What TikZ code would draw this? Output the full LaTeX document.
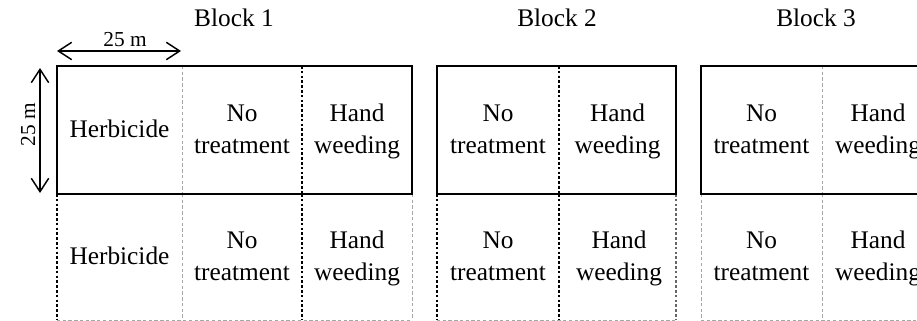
\documentclass[tikz,border=0pt]{standalone}
\usepackage{fontspec}
\setmainfont{Liberation Serif}
\usetikzlibrary{arrows.meta}
\begin{document}
\begin{tikzpicture}[x=0.75pt,y=-0.75pt,
  boxline/.style={line width=2.2pt},
  blackdot/.style={line width=0.8pt, dash pattern=on 2pt off 1.6pt},
  darkdot/.style={line width=0.8pt, draw=black!60, dash pattern=on 2pt off 1.6pt},
  graydash/.style={line width=0.75pt, draw=black!35, dash pattern=on 2.5pt off 1.8pt},
  cell/.style={align=center, font=\fontsize{19}{24}\selectfont, inner sep=0pt},
  title/.style={font=\fontsize{19}{24}\selectfont, inner sep=0pt, anchor=base},
  dim/.style={line width=1.1pt, {Straight Barb[length=10pt,width=13pt]}-{Straight Barb[length=10pt,width=13pt]}},
  dimlabel/.style={font=\fontsize{16}{19}\selectfont, inner sep=0pt, anchor=base}]
\useasboundingbox (0,0) rectangle (917,321);
\clip (0,0) rectangle (917,321);

% bottom row lines
\draw[graydash] (57,320) -- (412,320);
\draw[graydash] (437,320) -- (676,320);
\draw[graydash] (701,320) -- (935,320);
\draw[blackdot] (57,194) -- (57,320);
\draw[graydash] (182,194) -- (182,320);
\draw[blackdot] (302,194) -- (302,320);
\draw[graydash] (412,194) -- (412,320);
\draw[blackdot] (437,194) -- (437,320);
\draw[blackdot] (559,194) -- (559,320);
\draw[darkdot] (676,194) -- (676,320);
\draw[graydash] (701,194) -- (701,320);
\draw[graydash] (822,194) -- (822,320);
\draw[graydash] (935,194) -- (935,320);

% top row dividers
\draw[graydash] (182,66) -- (182,194);
\draw[blackdot] (302,66) -- (302,194);
\draw[blackdot] (559,66) -- (559,194);
\draw[graydash] (822,66) -- (822,194);

% thick block boxes
\draw[boxline] (57,66) rectangle (412,194);
\draw[boxline] (437,66) rectangle (676,194);
\draw[boxline] (701,66) rectangle (935,194);

% titles
\node[title] (b1) at (234,27) {Block 1};
\node[title] (b2) at (557,27) {Block 2};
\node[title] (b3) at (816,27) {Block 3};

% dimensions
\coordinate (hl) at (57,51);
\coordinate (hr) at (181,51);
\coordinate (vt) at (40,68);
\coordinate (vb) at (40,193);
\draw[dim] (hl) -- (hr);
\draw[dim] (vt) -- (vb);
\node[dimlabel] (dh) at (125,46.5) {25 m};
\node[dimlabel, rotate=90] (dv) at (35,125) {25 m};

% top row cells
\node[cell] (t11) at (119.5,131) {\strut Herbicide};
\node[cell] (t12) at (242,131) {\strut No\\\strut treatment};
\node[cell] (t13) at (357,131) {\strut Hand\\\strut weeding};
\node[cell] (t21) at (498,131) {\strut No\\\strut treatment};
\node[cell] (t22) at (617.5,131) {\strut Hand\\\strut weeding};
\node[cell] (t31) at (761.5,131) {\strut No\\\strut treatment};
\node[cell] (t32) at (878,131) {\strut Hand\\\strut weeding};

% bottom row cells
\node[cell] (u11) at (119.5,258) {\strut Herbicide};
\node[cell] (u12) at (242,258) {\strut No\\\strut treatment};
\node[cell] (u13) at (357,258) {\strut Hand\\\strut weeding};
\node[cell] (u21) at (498,258) {\strut No\\\strut treatment};
\node[cell] (u22) at (619,258) {\strut Hand\\\strut weeding};
\node[cell] (u31) at (761.5,258) {\strut No\\\strut treatment};
\node[cell] (u32) at (878,258) {\strut Hand\\\strut weeding};
\end{tikzpicture}
\end{document}
